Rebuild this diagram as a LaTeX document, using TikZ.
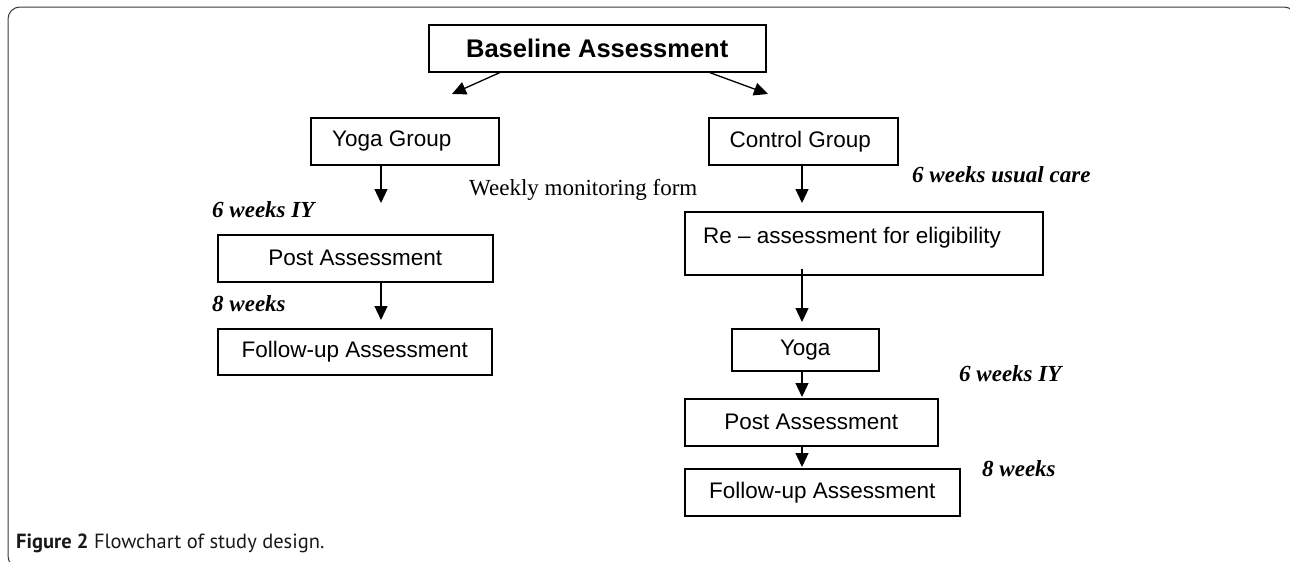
\documentclass[tikz,border=0pt]{standalone}
\usepackage{fontspec}
\usetikzlibrary{arrows.meta}
\newfontfamily\arialf{Liberation Sans}
\newfontfamily\timesf{Liberation Serif}
\newfontfamily\capf{PT Sans}
\definecolor{framec}{HTML}{3A3A3A}
\begin{document}
\begin{tikzpicture}[x=1pt,y=-1pt,
  box/.style={draw, line width=1.5pt, inner sep=0pt, anchor=north west,
    font=\arialf\fontsize{22.5}{27}\selectfont},
  conn/.style={line width=1.3pt, -{Triangle[length=14pt,width=13pt]}},
  lbl/.style={anchor=base west, inner sep=0pt, font=\timesf\bfseries\itshape\fontsize{23}{27}\selectfont},
  plain/.style={anchor=base west, inner sep=0pt, font=\timesf\fontsize{23}{27}\selectfont}]
\useasboundingbox (0,0) rectangle (1290,562);
\clip (0,0) rectangle (1290,562);
\draw[framec, line width=1pt, rounded corners=12pt] (8,7) rectangle (1296,568);

% boxes
\node[box, minimum width=337pt, minimum height=47pt, font=\arialf\bfseries\fontsize{25.5}{30}\selectfont] (base) at (428,24) {Baseline Assessment};
\node[box, minimum width=188pt, minimum height=47pt] (yogag) at (310,117) {Yoga Group\hspace*{26pt}};
\node[box, minimum width=189pt, minimum height=47pt] (ctrl) at (708,117) {Control Group\hspace*{6pt}};
\node[box, minimum width=275pt, minimum height=47pt] (postL) at (217,234) {Post Assessment};
\node[box, minimum width=274pt, minimum height=46pt] (fuL) at (217,328) {Follow-up Assessment};
\node[box, minimum width=358pt, minimum height=63pt] (re) at (684,211) {};
\node[anchor=base west, inner sep=0pt, font=\arialf\fontsize{22.5}{27}\selectfont] (reText) at (703,243) {Re – assessment for eligibility};
\node[box, minimum width=147pt, minimum height=42pt] (yogaR) at (731,328) {Yoga};
\node[box, minimum width=253pt, minimum height=47pt] (postR) at (684,398) {Post Assessment};
\node[box, minimum width=275pt, minimum height=47pt] (fuR) at (684,468) {Follow-up Assessment};

% labels
\node[plain] (weekly) at (469,195) {Weekly monitoring form};
\node[lbl] (l6L) at (212,217) {6 weeks IY};
\node[lbl] (l8L) at (212,311) {8 weeks};
\node[lbl] (l6C) at (912,182) {6 weeks usual care};
\node[lbl] (l6R) at (959,381) {6 weeks IY};
\node[lbl] (l8R) at (982,476) {8 weeks};
\node[anchor=base west, inner sep=0pt, font=\capf\fontsize{20.5}{24}\selectfont, text=black!90] (cap) at (16,548) {\textbf{Figure 2} Flowchart of study design.};

% arrow end points
\coordinate (tipYG) at (452,94);
\coordinate (tipCG) at (768,94);
\coordinate (t1) at (381,203);
\coordinate (t2) at (381,320);
\coordinate (t3) at (802,203);
\coordinate (t4) at (802,322);
\coordinate (t5) at (802,397);
\coordinate (t6) at (802,467);

\draw[conn] ([xshift=72pt]base.south west) -- (tipYG);
\draw[conn] ([xshift=-57pt]base.south east) -- (tipCG);
\draw[conn] (yogag.south west -| t1) -- (t1);
\draw[conn] (postL.south west -| t2) -- (t2);
\draw[conn] (ctrl.south west -| t3) -- (t3);
\draw[conn] ([yshift=7pt]re.south west -| t4) -- (t4);
\draw[conn] (yogaR.south west -| t5) -- (t5);
\draw[conn] (postR.south west -| t6) -- (t6);
\end{tikzpicture}
\end{document}
